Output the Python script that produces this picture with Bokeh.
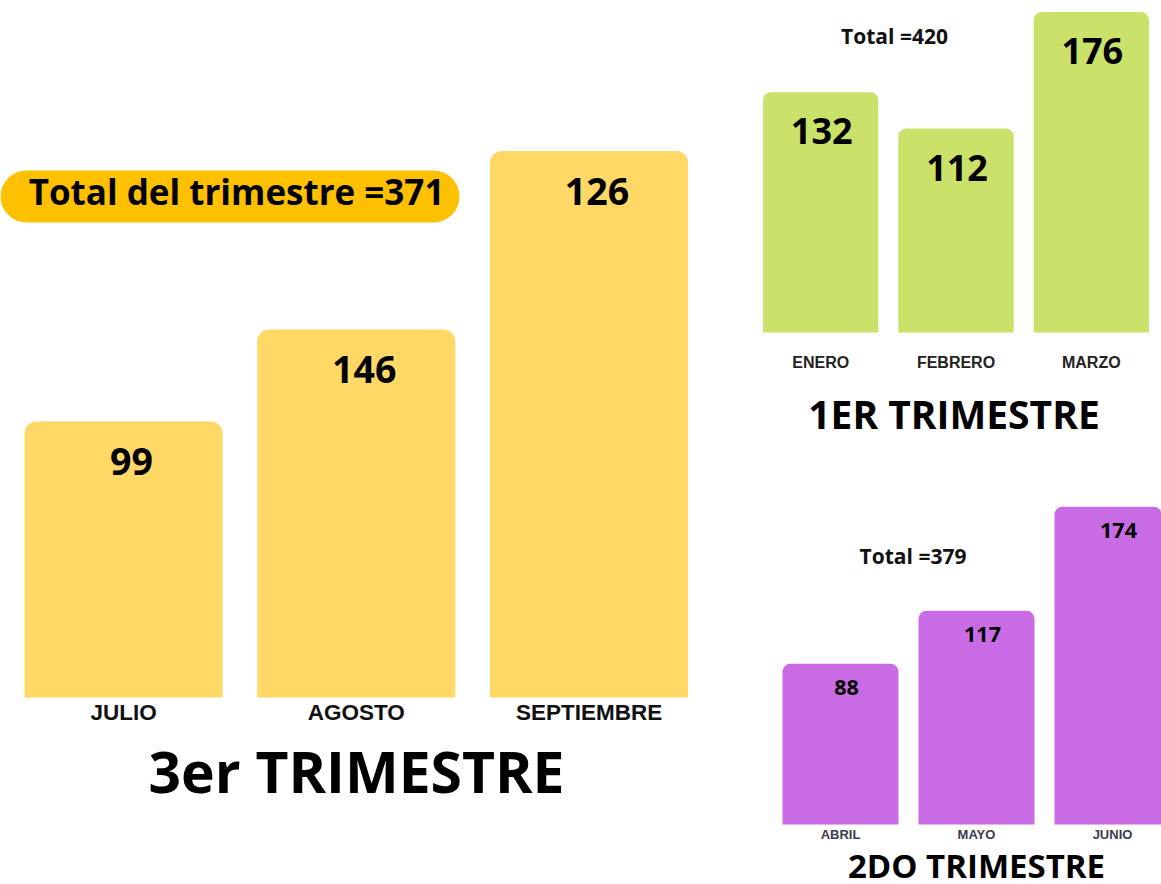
from bokeh.plotting import figure
from bokeh.models import Range1d, BoxAnnotation, Label, FixedTicker, ColumnDataSource
from bokeh.layouts import row, column
from bokeh.embed import file_html
from bokeh.resources import INLINE
from bokeh.core.properties import value

# ---------------- data ----------------
# 3er trimestre
months_3 = ["JULIO", "AGOSTO", "SEPTIEMBRE"]
values_3 = [99, 146, 126]            # numbers printed on the bars
bar_heights_3 = [99, 132, 196]       # bar heights as drawn in the reference
title_3 = "3er TRIMESTRE"

# 1er trimestre
months_1 = ["ENERO", "FEBRERO", "MARZO"]
values_1 = [132, 112, 176]
title_1 = "1ER TRIMESTRE"

# 2do trimestre
months_2 = ["ABRIL", "MAYO", "JUNIO"]
values_2 = [88, 117, 174]
title_2 = "2DO TRIMESTRE"

total_3 = sum(values_3)
total_1 = sum(values_1)
total_2 = sum(values_2)

OPEN = "Open Sans"
ARIAL = "Liberation Sans"


def make_chart(months, heights, labels, width, height, xr, yr, color, bar_width, radius,
               val_size, val_dx, val_dy, tick_size, tick_color, tick_standoff,
               title, title_size, title_standoff, title_bounds):
    p = figure(width=width, height=height, x_range=Range1d(*xr), y_range=Range1d(*yr),
               output_backend="svg", toolbar_location=None, min_border=0)
    p.outline_line_color = None
    p.background_fill_color = "white"
    p.border_fill_color = "white"
    p.grid.visible = False
    p.yaxis.visible = False
    xs = list(range(len(months)))
    src = ColumnDataSource(dict(x=xs, top=heights, label=[str(v) for v in labels]))
    p.vbar(x="x", top="top", bottom=0, width=bar_width, source=src,
           fill_color=color, line_color=None,
           border_radius=dict(top_left=radius, top_right=radius, bottom_right=0, bottom_left=0))
    p.text(x="x", y="top", text="label", source=src,
           text_font=value(OPEN), text_font_style="bold", text_font_size=f"{val_size}px",
           text_align="center", text_baseline="alphabetic",
           x_offset=val_dx, y_offset=val_dy, text_color="#000000")
    ax = p.xaxis[0]
    ax.fixed_location = 0
    ax.ticker = FixedTicker(ticks=xs)
    ax.major_label_overrides = {i: m for i, m in enumerate(months)}
    ax.axis_line_color = None
    ax.major_tick_line_color = None
    ax.minor_tick_line_color = None
    ax.major_tick_out = 0
    ax.major_tick_in = 0
    ax.major_label_standoff = int(tick_standoff)
    ax.major_label_text_font = ARIAL
    ax.major_label_text_font_style = "bold"
    ax.major_label_text_font_size = f"{tick_size}px"
    ax.major_label_text_color = tick_color
    ax.axis_label = title
    ax.axis_label_text_font = OPEN
    ax.axis_label_text_font_style = "bold"
    ax.axis_label_text_font_size = f"{title_size}px"
    ax.axis_label_text_color = "#000000"
    ax.axis_label_standoff = int(title_standoff)
    ax.bounds = title_bounds
    return p


# 3er trimestre (left, large)
p3 = make_chart(months_3, bar_heights_3, values_3, 720, 884,
                (-0.5285, 2.5649), (-67.07, 250.0), "#FFD865", 0.851, 12,
                37.5, 8, 40, 22.5, "#111111", 2,
                title_3, 57, 4, (-0.5, 2.5))
pill = BoxAnnotation(left=-0.5285, right=1.4436, top=189.0, bottom=170.4,
                     fill_color="#FFC000", fill_alpha=1.0, line_color=None,
                     border_radius=26, level="underlay")
p3.add_layout(pill)
p3.add_layout(Label(x=0.4855, y=181.5, text=f"Total del trimestre ={total_3}",
                    text_font=OPEN, text_font_style="bold", text_font_size="35px",
                    text_align="center", text_baseline="alphabetic", text_color="#000000"))

# 1er trimestre (top right)
p1 = make_chart(months_1, values_1, values_1, 441, 448,
                (-0.7406, 2.5188), (-63.72, 182.37), "#CAE26A", 0.852, 8,
                36, 1, 39, 16, "#222222", 22,
                title_1, 39, 12, (-0.5, 2.47))
p1.add_layout(Label(x=0.5455, y=163.1, text=f"Total ={total_1}",
                    text_font=OPEN, text_font_style="bold", text_font_size="21px",
                    text_align="center", text_baseline="alphabetic", text_color="#111111"))

# 2do trimestre (bottom right)
p2 = make_chart(months_2, values_2, values_2, 441, 436,
                (-0.8824, 2.3603), (-32.86, 205.91), "#C96BE4", 0.853, 8,
                21.5, 6, 24, 13, "#3b3b4f", 3,
                title_2, 33, -3, (-0.36, 2.36))
p2.add_layout(Label(x=0.533, y=147.3, text=f"Total ={total_2}",
                    text_font=OPEN, text_font_style="bold", text_font_size="21px",
                    text_align="center", text_baseline="alphabetic", text_color="#111111"))

layout = row(p3, column(p1, p2))
open("out.html", "w").write(file_html(layout, INLINE))
